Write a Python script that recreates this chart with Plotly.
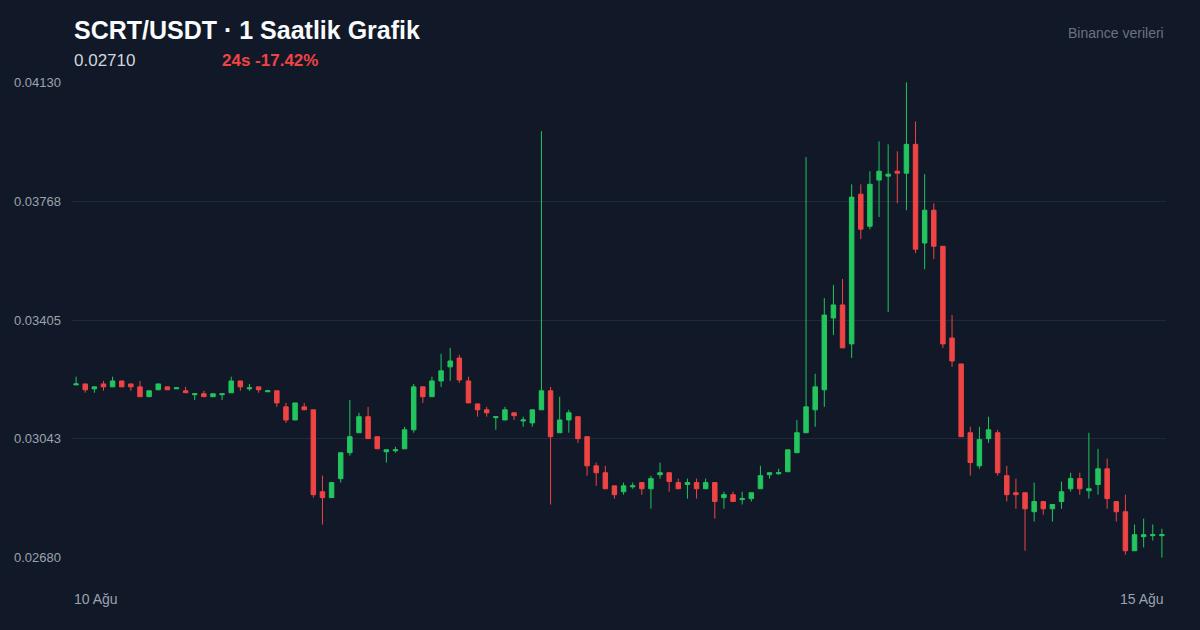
import plotly.graph_objects as go

# prices in units of 1e-5 USDT, hourly candles, 10 Ağu -> 15 Ağu
opens = [3207, 3210, 3195, 3210, 3201, 3219, 3210, 3201, 3171, 3192, 3201, 3195, 3189, 3177, 3180, 3171, 3177, 3183, 3219, 3195,
         3201, 3186, 3189, 3140, 3100, 3140, 3131, 2881, 2863, 2921, 3000, 3061, 3110, 3049, 3003, 3006, 3012, 3070, 3201, 3171,
         3219, 3262, 3289, 3219, 3149, 3131, 3107, 3100, 3122, 3097, 3091, 3131, 3189, 3061, 3100, 3110, 3049, 2960, 2939, 2899,
         2881, 2896, 2909, 2890, 2933, 2939, 2909, 2903, 2909, 2890, 2909, 2863, 2872, 2857, 2860, 2890, 2933, 2936, 2942, 3000,
         3061, 3131, 3192, 3411, 3451, 3332, 3789, 3691, 3832, 3844, 3859, 3853, 3941, 3640, 3740, 3630, 3350, 3271, 3061, 2960,
         3043, 3061, 2930, 2878, 2878, 2820, 2851, 2829, 2851, 2890, 2921, 2884, 2903, 2951, 2851, 2820, 2701, 2744, 2747, 2747]
highs = [3232, 3210, 3201, 3219, 3232, 3219, 3210, 3219, 3189, 3210, 3201, 3198, 3201, 3180, 3189, 3180, 3180, 3232, 3219, 3210,
         3201, 3189, 3189, 3152, 3152, 3152, 3131, 2930, 2909, 3000, 3161, 3122, 3140, 3049, 3009, 3018, 3079, 3210, 3201, 3232,
         3302, 3320, 3299, 3232, 3149, 3140, 3110, 3140, 3122, 3110, 3131, 3981, 3201, 3171, 3131, 3110, 3049, 2970, 2960, 2899,
         2909, 2909, 2909, 2930, 2970, 2939, 2921, 2921, 2921, 2921, 2909, 2881, 2881, 2881, 2878, 2960, 2939, 2951, 3009, 3100,
         3902, 3241, 3472, 3512, 3530, 3819, 3819, 3859, 3950, 3941, 3920, 4130, 4011, 3850, 3761, 3630, 3420, 3271, 3079, 3079,
         3110, 3070, 2960, 2921, 2878, 2909, 2851, 2842, 2912, 2939, 2939, 3061, 3012, 2982, 2851, 2872, 2781, 2799, 2781, 2768]
lows = [3207, 3183, 3183, 3189, 3201, 3201, 3189, 3171, 3171, 3192, 3192, 3195, 3183, 3161, 3171, 3171, 3161, 3183, 3189, 3189,
        3183, 3186, 3140, 3091, 3100, 3131, 2863, 2781, 2863, 2909, 2991, 3061, 3043, 3012, 2970, 3000, 3012, 3061, 3152, 3171,
        3201, 3219, 3213, 3152, 3110, 3110, 3070, 3100, 3100, 3079, 3079, 3131, 2842, 3061, 3061, 3030, 2930, 2899, 2890, 2860,
        2872, 2890, 2872, 2829, 2921, 2881, 2890, 2860, 2860, 2890, 2799, 2829, 2851, 2842, 2851, 2890, 2921, 2933, 2942, 3000,
        3061, 3079, 3140, 3359, 3320, 3289, 3652, 3682, 3719, 3429, 3761, 3740, 3609, 3560, 3591, 3320, 3262, 3049, 2930, 2951,
        3030, 2930, 2851, 2829, 2701, 2790, 2811, 2790, 2829, 2881, 2872, 2860, 2872, 2829, 2790, 2689, 2701, 2711, 2732, 2680]
closes = [3210, 3192, 3201, 3201, 3219, 3201, 3201, 3171, 3189, 3210, 3192, 3198, 3183, 3180, 3171, 3180, 3180, 3219, 3201, 3198,
          3192, 3189, 3152, 3100, 3152, 3131, 2872, 2863, 2909, 3000, 3049, 3110, 3043, 3012, 3009, 3009, 3070, 3201, 3171, 3219,
          3250, 3280, 3222, 3152, 3131, 3122, 3110, 3131, 3113, 3100, 3131, 3189, 3049, 3100, 3122, 3043, 2960, 2939, 2890, 2872,
          2899, 2899, 2890, 2921, 2939, 2912, 2890, 2909, 2890, 2909, 2851, 2872, 2851, 2860, 2878, 2930, 2939, 2939, 3009, 3061,
          3140, 3201, 3420, 3451, 3320, 3780, 3682, 3819, 3859, 3850, 3853, 3941, 3621, 3740, 3630, 3332, 3280, 3049, 2970, 3040,
          3070, 2939, 2872, 2872, 2829, 2851, 2829, 2842, 2881, 2921, 2890, 2890, 2951, 2860, 2820, 2701, 2750, 2750, 2750, 2750]

ytick_vals = [0.02680, 0.03043, 0.03405, 0.03768, 0.04130]
x_labels = ["10 Ağu", "15 Ağu"]

scale = 1e-5
x = list(range(len(opens)))

bg = '#111827'
grid = '#1f2937'
green = '#22c55e'
red = '#ef4444'

fig = go.Figure(go.Candlestick(
    x=x,
    open=[v * scale for v in opens],
    high=[v * scale for v in highs],
    low=[v * scale for v in lows],
    close=[v * scale for v in closes],
    increasing=dict(line=dict(color=green, width=1), fillcolor=green),
    decreasing=dict(line=dict(color=red, width=1), fillcolor=red),
    whiskerwidth=0,
    showlegend=False,
))

fig.update_layout(
    width=1200, height=630,
    margin=dict(l=72, r=34, t=82, b=72),
    paper_bgcolor=bg, plot_bgcolor=bg,
    font=dict(family="Liberation Sans, Arial, sans-serif", color='#9ca3af'),
    xaxis=dict(range=[-0.45, len(opens) - 0.55], showgrid=False, showticklabels=False,
               zeroline=False, rangeslider=dict(visible=False), fixedrange=True),
    yaxis=dict(range=[ytick_vals[0] - 0.000012, ytick_vals[-1] + 0.000012], tickvals=ytick_vals,
               ticktext=['%.5f' % v for v in ytick_vals], gridcolor=grid, gridwidth=1,
               zeroline=False, showline=False, tickfont=dict(size=13, color='#9ca3af'),
               ticks='', ticklabelstandoff=10),
)

# header texts
fig.add_annotation(text="<b>SCRT/USDT · 1 Saatlik Grafik</b>", xref='paper', yref='paper',
                   x=0, y=1, yshift=52, xanchor='left', yanchor='middle', showarrow=False,
                   font=dict(size=25, color='#f9fafb'))
fig.add_annotation(text="0.02710", xref='paper', yref='paper', x=0, y=1, yshift=22,
                   xanchor='left', yanchor='middle', showarrow=False,
                   font=dict(size=17, color='#d1d5db'))
fig.add_annotation(text="<b>24s -17.42%</b>", x=0, xref='paper', xshift=148, yref='paper', y=1,
                   yshift=22, xanchor='left', yanchor='middle', showarrow=False,
                   font=dict(size=17, color=red))
fig.add_annotation(text="Binance verileri", xref='paper', yref='paper', x=1, y=1, yshift=49,
                   xanchor='right', yanchor='middle', showarrow=False,
                   font=dict(size=14, color='#6b7280'))

# x axis end labels
fig.add_annotation(text=x_labels[0], xref='paper', yref='paper', x=0, y=0, yshift=-41,
                   xanchor='left', yanchor='middle', showarrow=False, font=dict(size=14, color='#9ca3af'))
fig.add_annotation(text=x_labels[1], xref='paper', yref='paper', x=1, y=0, yshift=-41,
                   xanchor='right', yanchor='middle', showarrow=False, font=dict(size=14, color='#9ca3af'))

# drop the default white page margin around the figure
fig.write_html("out.html", config={'displayModeBar': False},
               post_script="document.body.style.margin='0';document.body.style.background='%s';" % bg)
